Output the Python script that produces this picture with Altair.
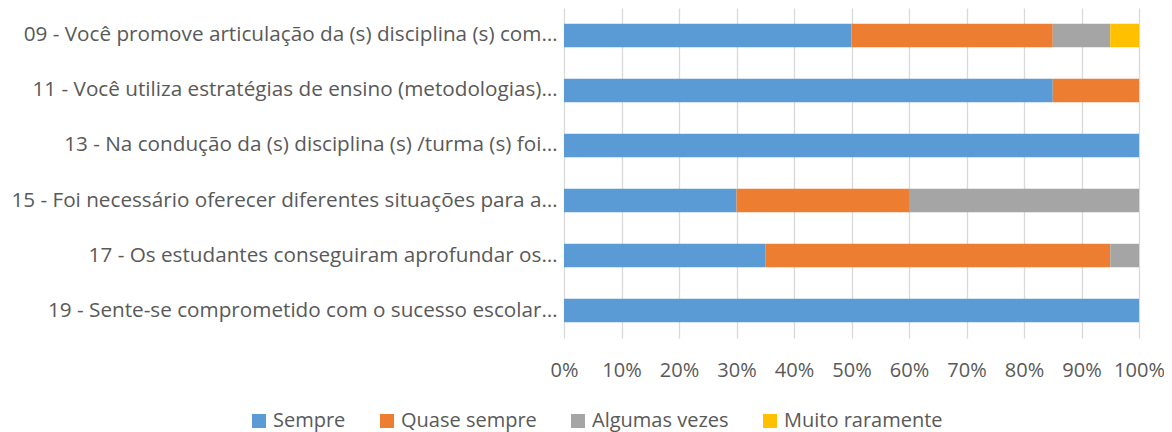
import altair as alt
import pandas as pd

questions = [
    "09 - Você promove articulação da (s) disciplina (s) com…",
    "11 - Você utiliza estratégias de ensino (metodologias)…",
    "13 - Na condução da (s) disciplina (s) /turma (s) foi…",
    "15 - Foi necessário oferecer diferentes situações para a…",
    "17 - Os estudantes conseguiram aprofundar os…",
    "19 - Sente-se comprometido com o sucesso escolar…",
]
categories = ["Sempre", "Quase sempre", "Algumas vezes", "Muito raramente"]
sempre = [50, 85, 100, 30, 35, 100]
quase_sempre = [35, 15, 0, 30, 60, 0]
algumas_vezes = [10, 0, 0, 40, 5, 0]
muito_raramente = [5, 0, 0, 0, 0, 0]
colors = ["#5B9BD5", "#ED7D31", "#A5A5A5", "#FFC000"]

rows = []
for i, q in enumerate(questions):
    for j, (cat, vals) in enumerate(zip(categories, [sempre, quase_sempre, algumas_vezes, muito_raramente])):
        rows.append({"question": q, "category": cat, "value": vals[i], "order": j})
df = pd.DataFrame(rows)

FONT = "Open Sans"
TXT = "#595959"
FS = 20

chart = alt.Chart(df).mark_bar().encode(
    y=alt.Y("question:N", sort=questions, title=None,
            scale=alt.Scale(paddingInner=0.573, paddingOuter=0.286),
            axis=alt.Axis(labelLimit=700, labelFontSize=20.7, labelFont=FONT, labelColor=TXT,
                          ticks=False, domain=False, labelPadding=7)),
    x=alt.X("value:Q", stack="normalize", title=None,
            scale=alt.Scale(domain=[0, 1]),
            axis=alt.Axis(format="%", values=[i / 10 for i in range(11)], labelFontSize=FS,
                          labelFont=FONT, labelColor=TXT, ticks=False, domain=False,
                          labelFlush=False, labelOverlap=False,
                          labelPadding=22, gridColor="#D9D9D9", gridWidth=1.3)),
    color=alt.Color("category:N", sort=categories,
                    scale=alt.Scale(domain=categories, range=colors),
                    legend=alt.Legend(title=None, orient="none", direction="horizontal",
                                      legendX=-315, legendY=403, labelFontSize=FS,
                                      labelFont=FONT, labelColor=TXT, symbolType="square",
                                      symbolSize=196, symbolStrokeWidth=0, columnPadding=31,
                                      labelOffset=4, padding=0, labelLimit=400)),
    order=alt.Order("order:Q"),
).properties(
    width=575, height=330,
    padding={"left": 556, "top": 0, "right": 25, "bottom": 94},
    autosize=alt.AutoSizeParams(type="none"),
).configure_view(stroke=None)

chart.save("out.html", embed_options={"renderer": "svg", "actions": False})
